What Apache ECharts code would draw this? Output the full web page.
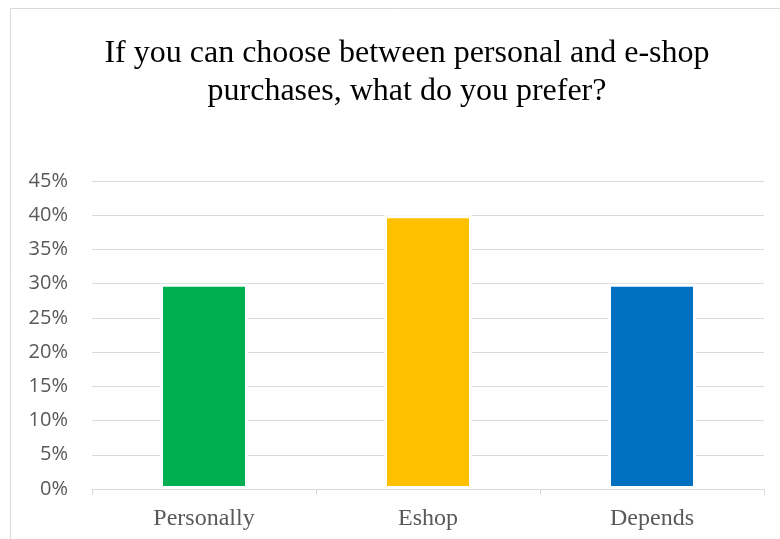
<!DOCTYPE html>
<html>
<head>
<meta charset="utf-8">
<script src="https://cdn.jsdelivr.net/npm/echarts@6/dist/echarts.min.js"></script>
<style>
html,body{margin:0;padding:0;background:#fff;}
#chart{width:780px;height:539px;}
</style>
</head>
<body>
<div id="chart"></div>
<script>
var titleText = 'If you can choose between personal and e-shop\npurchases, what do you prefer?';
var categories = ['Personally', 'Eshop', 'Depends'];
var values = [30, 40, 30];
var barColors = ['#00B050', '#FFC000', '#0070C0'];
var yMax = 45;
var yStep = 5;

var chart = echarts.init(document.getElementById('chart'), null, {renderer: 'canvas'});
chart.setOption({
  animation: false,
  backgroundColor: '#fff',
  graphic: [{
    type: 'rect',
    shape: {x: 10.5, y: 8.5, width: 790, height: 600},
    style: {fill: 'none', stroke: '#d9d9d9', lineWidth: 1},
    silent: true,
    z: -1
  }],
  title: {
    text: titleText,
    left: 402,
    top: 30,
    textAlign: 'center',
    textStyle: {
      fontFamily: 'Liberation Serif',
      fontSize: 32,
      fontWeight: 'normal',
      color: '#000',
      lineHeight: 38
    }
  },
  grid: {left: 92, right: 16, top: 181, bottom: 50, containLabel: false},
  xAxis: {
    type: 'category',
    data: categories,
    boundaryGap: true,
    axisLine: {lineStyle: {color: '#d9d9d9', width: 1}},
    axisTick: {show: true, alignWithLabel: false, length: 6, lineStyle: {color: '#d9d9d9'}},
    axisLabel: {
      margin: 18,
      fontFamily: 'Liberation Serif',
      fontSize: 24,
      color: '#595959'
    }
  },
  yAxis: {
    type: 'value',
    min: 0,
    max: yMax,
    interval: yStep,
    axisLine: {show: false},
    axisTick: {show: false},
    splitLine: {lineStyle: {color: '#d9d9d9', width: 1}},
    axisLabel: {
      margin: 24,
      fontFamily: 'Open Sans',
      fontSize: 20,
      color: '#595959',
      formatter: function (v) { return v + '%'; }
    }
  },
  series: [{
    type: 'bar',
    data: values.map(function (v, i) {
      return {value: v, itemStyle: {color: barColors[i]}};
    }),
    barWidth: 88,
    itemStyle: {borderColor: '#fff', borderWidth: 3}
  }]
});
</script>
</body>
</html>
